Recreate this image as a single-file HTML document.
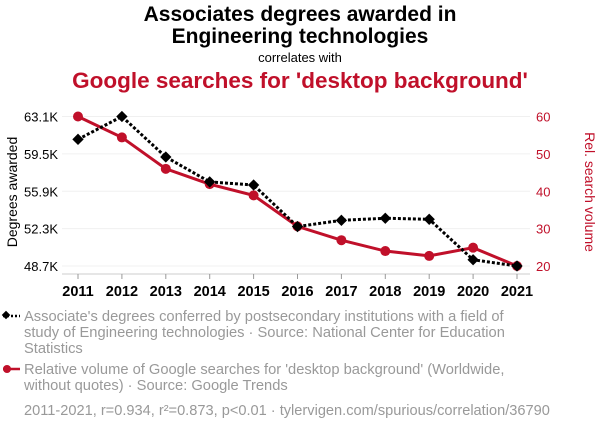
<!DOCTYPE html>
<html><head><meta charset="utf-8"><style>
body{margin:0;background:#fff;font-family:"Liberation Sans",sans-serif;}
svg text{font-family:"Liberation Sans",sans-serif;}
</style></head><body>
<svg id="c" width="600" height="430" viewBox="0 0 600 430">
<text x="300" y="21" text-anchor="middle" font-size="21" font-weight="bold" fill="#000">Associates degrees awarded in</text>
<text x="300" y="43" text-anchor="middle" font-size="21" font-weight="bold" fill="#000">Engineering technologies</text>
<text x="300" y="62" text-anchor="middle" font-size="13" fill="#000">correlates with</text>
<text x="300" y="88" text-anchor="middle" font-size="22.5" font-weight="bold" fill="#c0102a">Google searches for 'desktop background'</text>
<g id="grid"></g>
<line x1="62" y1="274" x2="530" y2="274" stroke="#ccc"/>
<g id="axes"></g>
<text transform="translate(17,192) rotate(-90)" text-anchor="middle" font-size="14" fill="#000">Degrees awarded</text>
<text transform="translate(585,192) rotate(90)" text-anchor="middle" font-size="14" fill="#c0102a">Rel. search volume</text>
<g id="series"></g>
<g>
<line x1="3" y1="316" x2="20" y2="316" stroke="#000" stroke-width="2.5" stroke-dasharray="2,2"/>
<rect x="3" y="312" width="6" height="6" transform="rotate(45 6 315)" fill="#000"/>
<text font-size="14.7" fill="#999"><tspan x="24" y="321">Associate's degrees conferred by postsecondary institutions with a field of</tspan><tspan x="24" y="337">study of Engineering technologies · Source: National Center for Education</tspan><tspan x="24" y="353">Statistics</tspan></text>
</g>
<g>
<line x1="3" y1="369" x2="20" y2="369" stroke="#c0102a" stroke-width="2.5"/>
<circle cx="7" cy="369" r="4" fill="#c0102a"/>
<text font-size="14.7" fill="#999"><tspan x="24" y="374">Relative volume of Google searches for 'desktop background' (Worldwide,</tspan><tspan x="24" y="390">without quotes) · Source: Google Trends</tspan></text>
</g>
<text x="24" y="415" font-size="14.6" fill="#999">2011-2021, r=0.934, r²=0.873, p&lt;0.01 · tylervigen.com/spurious/correlation/36790</text>
</svg>
<script>
const years=[2011,2012,2013,2014,2015,2016,2017,2018,2019,2020,2021];
const degrees=[60.9,63.1,59.2,56.8,56.5,52.5,53.1,53.3,53.2,49.3,48.7];
const searches=[60,54.4,46.0,41.9,38.9,30.6,26.9,24.0,22.7,24.9,20];
const leftTicks=[48.7,52.3,55.9,59.5,63.1];
const leftLabels=["48.7K","52.3K","55.9K","59.5K","63.1K"];
const rightTicks=[20,30,40,50,60];
const NS="http://www.w3.org/2000/svg";
const x=y=>78+(y-2011)*(517-78)/10;
const yl=v=>266-(v-48.7)*(266-116.5)/(63.1-48.7);
const yr=v=>266-(v-20)*(266-116.5)/40;
function mk(t,a,p){const e=document.createElementNS(NS,t);for(const k in a)e.setAttribute(k,a[k]);p.appendChild(e);return e;}
const grid=document.getElementById('grid'),axes=document.getElementById('axes'),ser=document.getElementById('series');
leftTicks.forEach((v,i)=>{
 const g=mk('line',{x1:62,x2:530,y1:yl(v),y2:yl(v),stroke:'#f0f0f0'},grid);
 
 
 const t=mk('text',{x:58,y:yl(v)+5,'text-anchor':'end','font-size':13,fill:'#000'},axes);t.textContent=leftLabels[i];
 
 
});
rightTicks.forEach(v=>{
 const t=mk('text',{x:536,y:yr(v)+5,'font-size':13,fill:'#c0102a'},axes);t.textContent=v;
 
 
});
years.forEach(y=>{
 mk('line',{x1:x(y),x2:x(y),y1:274,y2:279,stroke:'#999'},axes);
 const t=mk('text',{x:x(y),y:296,'text-anchor':'middle','font-size':14.5,'font-weight':'bold',fill:'#000'},axes);t.textContent=y;
 
 
});
const rl=mk('polyline',{points:years.map((y,i)=>x(y)+','+yr(searches[i])).join(' '),fill:'none',stroke:'#c0102a','stroke-width':3},ser);


years.forEach((y,i)=>{const c=mk('circle',{cx:x(y),cy:yr(searches[i]),r:5,fill:'#c0102a'},ser);
 
 });
const bl=mk('polyline',{points:years.map((y,i)=>x(y)+','+yl(degrees[i])).join(' '),fill:'none',stroke:'#000','stroke-width':3,'stroke-dasharray':'3,2'},ser);


years.forEach((y,i)=>{const cx=x(y),cy=yl(degrees[i]);const r=mk('rect',{x:cx-4,y:cy-4,width:8,height:8,fill:'#000',transform:`rotate(45 ${cx} ${cy})`},ser);
 
 });
</script>
</body></html>
